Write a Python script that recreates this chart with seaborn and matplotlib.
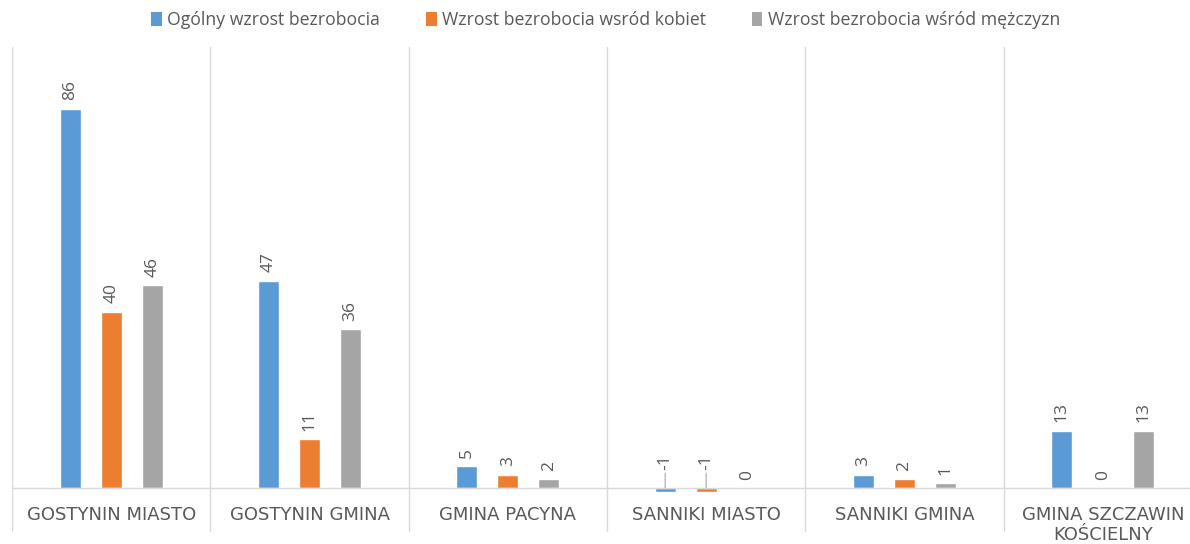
import matplotlib
matplotlib.use("Agg")
import matplotlib.pyplot as plt
from matplotlib.patches import Patch
import seaborn as sns
import pandas as pd

categories = ["GOSTYNIN MIASTO", "GOSTYNIN GMINA", "GMINA PACYNA",
              "SANNIKI MIASTO", "SANNIKI GMINA", "GMINA SZCZAWIN\nKOŚCIELNY"]
series_names = ["Ogólny wzrost bezrobocia", "Wzrost bezrobocia wsród kobiet",
                "Wzrost bezrobocia wśród mężczyzn"]
ogolny = [86, 47, 5, -1, 3, 13]
kobiety = [40, 11, 3, -1, 2, 0]
mezczyzni = [46, 36, 2, 0, 1, 13]
colors = ["#5B9BD5", "#ED7D31", "#A5A5A5"]

rows = []
for name, vals in zip(series_names, [ogolny, kobiety, mezczyzni]):
    for c, v in zip(categories, vals):
        rows.append({"cat": c, "series": name, "val": v})
df = pd.DataFrame(rows)

sns.set_style("white")
plt.rcParams["font.family"] = ["Open Sans", "DejaVu Sans"]

fig = plt.figure(figsize=(11.9, 5.44), dpi=100)
ax = fig.add_axes([12 / 1190, 12 / 544, 1.0, 485 / 544])

sns.barplot(data=df, x="cat", y="val", hue="series", order=categories,
            hue_order=series_names, palette=colors, width=0.62, gap=0.49,
            saturation=1, legend=False, ax=ax, errorbar=None)

ax.set_xlim(-0.5, 5.5)
ax.set_ylim(-10, 100)
for s in ax.spines.values():
    s.set_visible(False)
ax.set_xticks([])
ax.set_yticks([])
ax.set_xlabel("")
ax.set_ylabel("")

for b in range(len(categories) + 1):
    ax.axvline(b - 0.5, color="#D9D9D9", lw=1, zorder=0)
ax.axhline(0, color="#D9D9D9", lw=1, zorder=1)

label_color = "#595959"
for cont in ax.containers:
    for p in cont:
        h = p.get_height()
        x = p.get_x() + p.get_width() / 2
        txt = f"{int(round(h))}"
        if h < 0:
            ax.annotate(txt, (x, 0), xytext=(0, 13), textcoords="offset points",
                        rotation=90, ha="center", va="bottom", fontsize=12.5,
                        color=label_color,
                        arrowprops=dict(arrowstyle="-", color="#A6A6A6", lw=0.8,
                                        shrinkA=0, shrinkB=0))
        else:
            ax.annotate(txt, (x, h), xytext=(0, 6), textcoords="offset points",
                        rotation=90, ha="center", va="bottom", fontsize=12.5,
                        color=label_color)

for i, c in enumerate(categories):
    ax.annotate(c, (i, 0), xytext=(0, -13), textcoords="offset points",
                ha="center", va="top", fontsize=13, color=label_color,
                linespacing=1.15, fontfamily="DejaVu Sans")

handles = [Patch(facecolor=col, edgecolor="none") for col in colors]
fig.legend(handles, series_names, loc="center", bbox_to_anchor=(0.509, 0.963),
           ncol=3, frameon=False, handlelength=0.6,
           handleheight=0.9, handletextpad=0.3, columnspacing=2.6,
           labelcolor=label_color,
           prop={"family": ["Open Sans"], "size": 12.7})

fig.savefig("out.png", dpi=100)
